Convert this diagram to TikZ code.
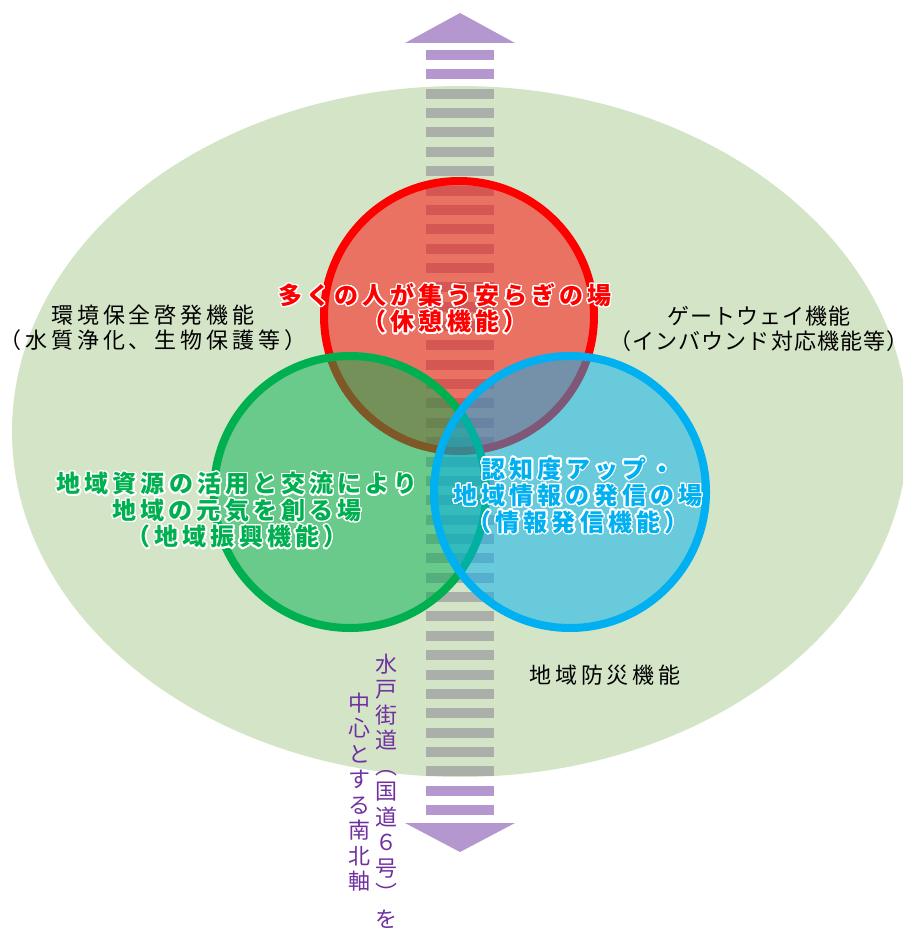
\documentclass[tikz,border=0pt]{standalone}
\usepackage{fontspec}
\setmainfont{Noto Sans CJK JP}
\newfontfamily\jp[LetterSpace=18]{Noto Sans CJK JP}
\newfontfamily\jpn[LetterSpace=5]{Noto Sans CJK JP}
\newfontfamily\jpb[LetterSpace=17]{Noto Sans CJK JP}
\newfontfamily\jpv{Noto Sans CJK JP}
\usepackage[copies]{contour}
\contourlength{1.3pt}
\contournumber{24}
\definecolor{bggreen}{RGB}{212,229,199}
\definecolor{stripegray}{RGB}{171,175,170}
\definecolor{arrowpurple}{RGB}{180,151,207}
\definecolor{cred}{RGB}{255,0,0}
\definecolor{cgreen}{RGB}{0,176,80}
\definecolor{cblue}{RGB}{0,176,240}
\definecolor{txtpurple}{RGB}{112,48,160}
\tikzset{
  ring/.style={line width=8pt, draw=#1, fill=#1, fill opacity=0.5, draw opacity=1},
  lbl/.style={align=center, inner sep=0pt, font=\jp\fontsize{22}{25}\selectfont, text=black},
  nlbl/.style={align=center, inner sep=0pt, font=\jpn\fontsize{22}{25}\selectfont, text=black},
  clbl/.style={align=center, inner sep=0pt, font=\jpb\bfseries\fontsize{24}{26.5}\selectfont, text=#1},
  vlbl/.style={align=center, inner sep=0pt, font=\jpv\fontsize{22}{25.5}\selectfont, text=txtpurple}
}
\begin{document}
\begin{tikzpicture}[x=1pt,y=-1pt]
\useasboundingbox (0,0) rectangle (903,931);
\clip (0,0) rectangle (903,931);
% background ellipse
\fill[bggreen] (460,431.5) ellipse [x radius=448, y radius=345.5];
% arrow heads
\fill[arrowpurple] (405,43) -- (460,13) -- (515,43) -- cycle;
\fill[arrowpurple] (405,823) -- (460,852) -- (515,823) -- cycle;
% stripes
\foreach \k in {0,...,39}{
  \ifnum\k<2 \def\sc{arrowpurple}\else\ifnum\k>37 \def\sc{arrowpurple}\else\def\sc{stripegray}\fi\fi
  \fill[\sc] (426,{50+19.36*\k}) rectangle (494,{60+19.36*\k});
}
% circles
\draw[ring=cred] (459,316) circle [radius=135];
\draw[ring=cgreen] (350,492) circle [radius=136];
\draw[ring=cblue] (570,492) circle [radius=136];
% labels
\node[lbl] (env) at (153,327.5) {環境保全啓発機能\\（水質浄化、生物保護等）};
\node[nlbl] (gate) at (759,329) {ゲートウェイ機能\\（インバウンド対応機能等）};
\node[lbl] (bosai) at (605,675) {地域防災機能};
\node[clbl=cred] (rest) at (445,309) {\contour{white}{多くの人が集う安らぎの場}\\\contour{white}{（休憩機能）}};
\node[clbl=cgreen] (local) at (237,511) {\contour{white}{地域資源の活用と交流により}\\\contour{white}{地域の元気を創る場}\\\contour{white}{（地域振興機能）}};
\node[clbl=cblue] (info) at (578,496) {\contour{white}{認知度アップ・}\\\contour{white}{地域情報の発信の場}\\\contour{white}{（情報発信機能）}};
\node[vlbl] (axis1) at (386,791) {水\\戸\\街\\道\\︵\\国\\道\\６\\号\\︶\\を};
\node[vlbl] (axis2) at (359,792) {中\\心\\と\\す\\る\\南\\北\\軸};
\end{tikzpicture}
\end{document}
